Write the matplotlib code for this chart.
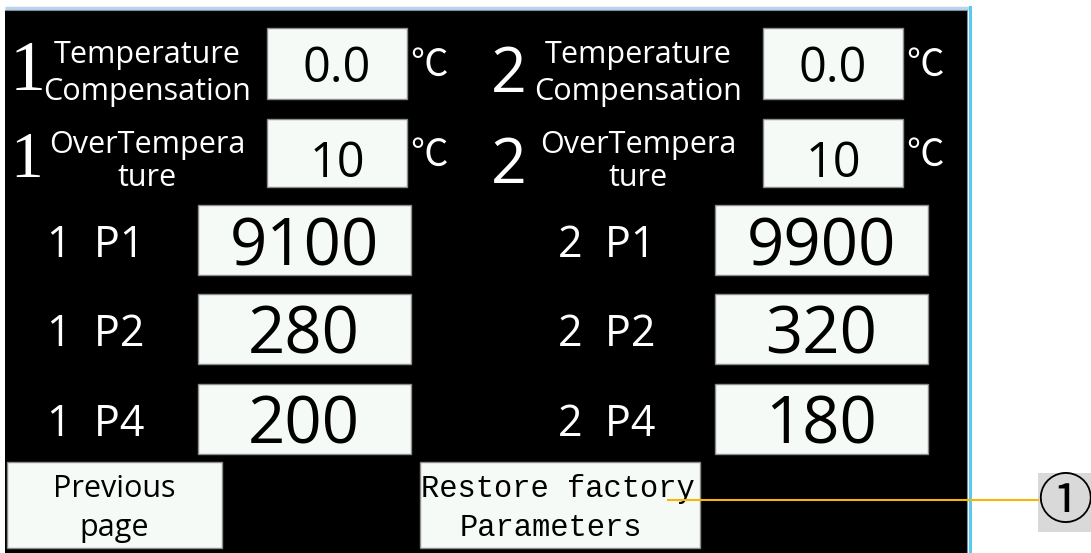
import matplotlib.pyplot as plt
from matplotlib.patches import Rectangle

# ---- screen values ----
channels = ['1', '2']
temp_comp = [0.0, 0.0]
over_temp = [10, 10]
p_names = ['P1', 'P2', 'P4']
p_values_1 = [9100, 280, 200]
p_values_2 = [9900, 320, 180]
buttons = ['Previous\npage', 'Restore factory\nParameters']
callout = '①'

BOX_FC = '#f5faf7'
BOX_EC = '#8c8c8c'
SANS = ['Open Sans', 'DejaVu Sans']
CJK = ['Noto Sans CJK SC', 'DejaVu Sans']

W, H = 1091, 553
fig = plt.figure(figsize=(W / 100, H / 100), dpi=100)
ax = fig.add_axes([0, 0, 1, 1])
ax.set_xlim(0, W)
ax.set_ylim(H, 0)
ax.axis('off')


def box(x0, y0, x1, y1, fc=BOX_FC, ec=BOX_EC, lw=1.0):
    ax.add_patch(Rectangle((x0, y0), x1 - x0, y1 - y0, facecolor=fc,
                           edgecolor=ec, linewidth=lw, zorder=2))


def label(x, y, s, size, color='white', family=SANS, ha='center'):
    ax.text(x, y, s, color=color, fontsize=size, family=family,
            ha=ha, va='baseline', zorder=4)


# screen panel with its window frame
ax.add_patch(Rectangle((5, 9.5), 962, 550, facecolor='black', edgecolor='none', zorder=1))
ax.plot([5, 969], [8, 8], color='#b8d4ee', lw=2.5, zorder=3, solid_capstyle='butt')
ax.plot([5, 967], [9.5, 9.5], color='#7f8c99', lw=0.8, zorder=3)
ax.plot([967, 967], [9.5, 553], color='#7f8c99', lw=0.8, zorder=3)
ax.plot([969.5, 969.5], [7, 553], color='#5bc8f0', lw=2.2, zorder=3)

# temperature rows
for i, ch in enumerate(channels):
    cx = 147 if i == 0 else 638          # centre of the two-line caption
    bx0 = 267 if i == 0 else 763         # value box left edge
    if i == 0:
        label(10, 90, ch, 52, family='Liberation Serif', ha='left')
        label(10, 177, ch, 47, family='Liberation Serif', ha='left')
    else:
        label(491, 92, ch, 45, ha='left')
        label(491, 183, ch, 45, ha='left')

    # Temperature compensation
    label(cx, 63, 'Temperature', 22)
    label(cx, 100, 'Compensation', 22)
    box(bx0, 28, bx0 + 140, 99)
    label(bx0 + 70, 82, f'{temp_comp[i]:.1f}', 35, color='black')
    label(bx0 + 162, 76, '℃', 27, family=CJK)

    # Over temperature
    label(cx, 153, 'OverTempera', 22)
    label(cx, 186, 'ture', 22)
    box(bx0, 119, bx0 + 140, 187)
    label(bx0 + 70, 177, f'{over_temp[i]}', 35, color='black')
    label(bx0 + 162, 166, '℃', 27, family=CJK)

# parameter rows
row_y = [205, 294, 384]
for i, ch in enumerate(channels):
    vals = p_values_1 if i == 0 else p_values_2
    lx = 47 if i == 0 else 558
    bx0 = 198 if i == 0 else 715
    for name, v, y0 in zip(p_names, vals, row_y):
        label(lx, y0 + 52, f'{ch}  {name}', 31, ha='left')
        box(bx0, y0, bx0 + 213, y0 + 70)
        label(bx0 + 106, y0 + 60, f'{v}', 47, color='black')

# buttons
box(7, 462, 222, 548)
prev_lines = buttons[0].split('\n')
label(114, 497, prev_lines[0], 22, color='black')
label(114, 536, prev_lines[1], 22, color='black')
box(420, 462, 700, 548)
rest_lines = buttons[1].split('\n')
label(558, 497, rest_lines[0], 22, color='black', family='Liberation Mono')
label(551, 536, rest_lines[1], 22, color='black', family='Liberation Mono')

# callout
ax.plot([668, 1038], [500, 500], color='#f5b800', lw=1.5, zorder=5)
box(1038, 473, 1091, 532, fc='#d9d9d9', ec='none', lw=0)
ax.text(1065, 503, callout, color='black', fontsize=40, family=CJK,
        ha='center', va='center', zorder=6)

fig.savefig('out.png', dpi=100, facecolor='white')
